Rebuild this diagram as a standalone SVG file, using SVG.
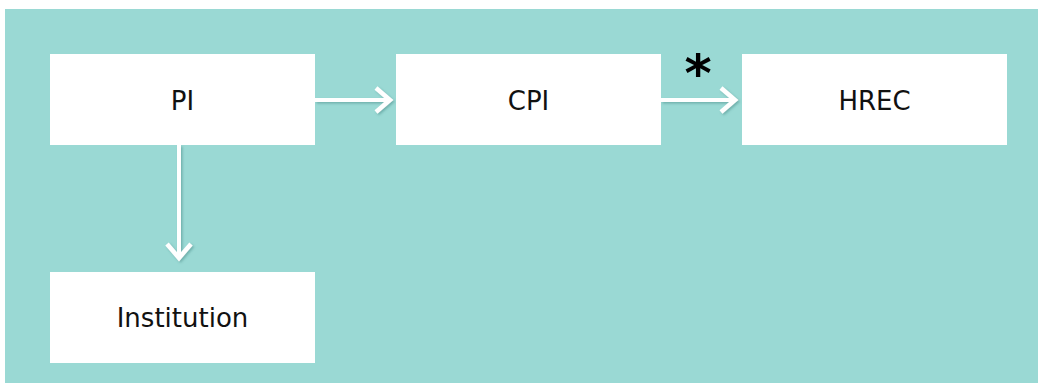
<svg xmlns="http://www.w3.org/2000/svg" width="1038" height="383" viewBox="0 0 1038 383">
<defs>
<style>
.node rect{fill:#ffffff}
.node text{font-family:"DejaVu Sans",sans-serif;font-size:26px;fill:#111111;text-anchor:middle}
.conn path{fill:none;stroke:#ffffff;stroke-width:4;filter:url(#sh)}
</style>
<filter id="sh" filterUnits="userSpaceOnUse" x="0" y="0" width="1038" height="383">
<feDropShadow dx="1.5" dy="1.5" stdDeviation="1" flood-color="#3c7f7a" flood-opacity="0.45"/>
</filter>
<marker id="ah" markerUnits="userSpaceOnUse" markerWidth="30" markerHeight="30" refX="0" refY="0" viewBox="-20 -15 24 30" orient="auto" overflow="visible">
<path d="M-14,-12 L0,0 L-14,12" fill="none" stroke="#ffffff" stroke-width="4.5"/>
</marker>
</defs>
<rect x="5" y="9" width="1033" height="374" fill="#9ad9d4"/>
<g id="connectors" class="conn">
<path d="M315,100 H390" marker-end="url(#ah)"/>
<path d="M661,100 H735" marker-end="url(#ah)"/>
<path d="M179,145 V258" marker-end="url(#ah)"/>
</g>
<text x="698" y="91" font-family="DejaVu Sans,sans-serif" font-weight="bold" font-size="52" text-anchor="middle" fill="#000000">*</text>
<g id="node-pi" class="node"><rect x="50" y="54" width="265" height="91"/><text x="182.5" y="110">PI</text></g>
<g id="node-cpi" class="node"><rect x="396" y="54" width="265" height="91"/><text x="528.5" y="110">CPI</text></g>
<g id="node-hrec" class="node"><rect x="742" y="54" width="265" height="91"/><text x="874.5" y="110">HREC</text></g>
<g id="node-institution" class="node"><rect x="50" y="272" width="265" height="91"/><text x="182.5" y="327">Institution</text></g>
</svg>
